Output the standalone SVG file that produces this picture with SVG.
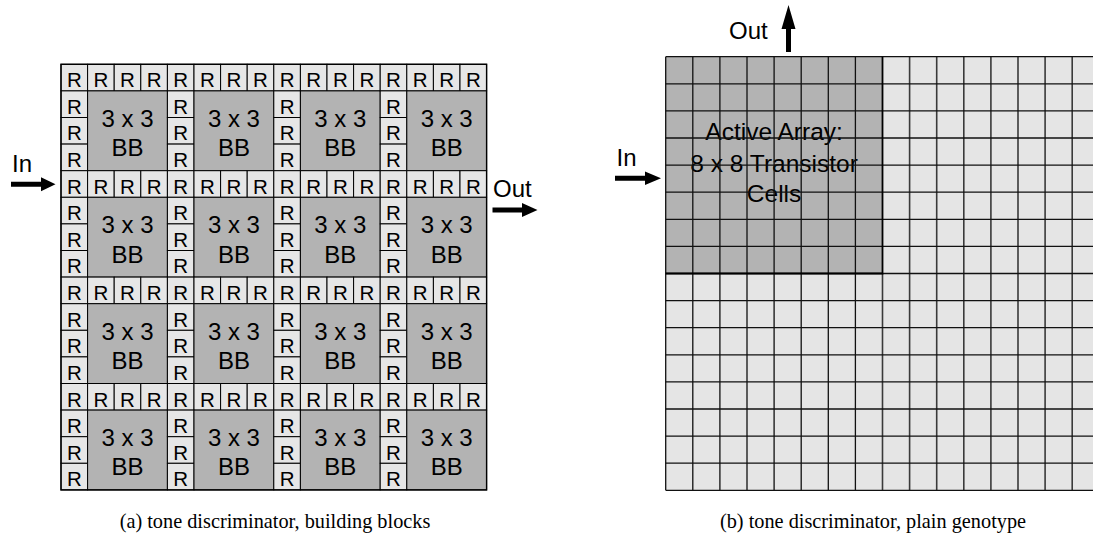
<svg xmlns="http://www.w3.org/2000/svg" width="1093" height="538" viewBox="0 0 1093 538">
<defs>
<style>
.r{fill:#e6e6e6;stroke:#000;stroke-width:1}
.bb{fill:#b3b3b3;stroke:#000;stroke-width:1}
.t{font-family:"Liberation Sans",Arial,sans-serif;fill:#000;text-anchor:middle}
.tr{font-size:20.5px}
.tb{font-size:24px}
.lab{font-family:"Liberation Sans",Arial,sans-serif;font-size:24px;fill:#000}
.cap{font-family:"Liberation Serif","Times New Roman",serif;font-size:20.3px;fill:#000;text-anchor:middle}
.gl{stroke:#111;stroke-width:1.3;fill:none}
.gv{stroke:#3a3a3a;stroke-width:1.6;fill:none}
.arrow{fill:#000;stroke:none}
</style>
</defs>
<rect width="1093" height="538" fill="#fff"/>

<g id="left-array">
<g id="blk-0-0" transform="translate(61,64.3)"><rect class="r" x="0" y="0" width="26.6" height="26.6"/><rect class="r" x="26.6" y="0" width="26.6" height="26.6"/><rect class="r" x="53.2" y="0" width="26.6" height="26.6"/><rect class="r" x="79.8" y="0" width="26.6" height="26.6"/><rect class="r" x="0" y="26.6" width="26.6" height="26.6"/><rect class="r" x="0" y="53.2" width="26.6" height="26.6"/><rect class="r" x="0" y="79.8" width="26.6" height="26.6"/><rect class="bb" x="26.6" y="26.6" width="79.8" height="79.8"/><g class="t tr"><text x="13.3" y="23">R</text><text x="39.9" y="23">R</text><text x="66.5" y="23">R</text><text x="93.1" y="23">R</text><text x="13.3" y="49.6">R</text><text x="13.3" y="76.2">R</text><text x="13.3" y="102.8">R</text></g><g class="t tb"><text x="66.5" y="62.6">3 x 3</text><text x="66.5" y="91.9">BB</text></g></g>
<g id="blk-0-1" transform="translate(167.4,64.3)"><rect class="r" x="0" y="0" width="26.6" height="26.6"/><rect class="r" x="26.6" y="0" width="26.6" height="26.6"/><rect class="r" x="53.2" y="0" width="26.6" height="26.6"/><rect class="r" x="79.8" y="0" width="26.6" height="26.6"/><rect class="r" x="0" y="26.6" width="26.6" height="26.6"/><rect class="r" x="0" y="53.2" width="26.6" height="26.6"/><rect class="r" x="0" y="79.8" width="26.6" height="26.6"/><rect class="bb" x="26.6" y="26.6" width="79.8" height="79.8"/><g class="t tr"><text x="13.3" y="23">R</text><text x="39.9" y="23">R</text><text x="66.5" y="23">R</text><text x="93.1" y="23">R</text><text x="13.3" y="49.6">R</text><text x="13.3" y="76.2">R</text><text x="13.3" y="102.8">R</text></g><g class="t tb"><text x="66.5" y="62.6">3 x 3</text><text x="66.5" y="91.9">BB</text></g></g>
<g id="blk-0-2" transform="translate(273.8,64.3)"><rect class="r" x="0" y="0" width="26.6" height="26.6"/><rect class="r" x="26.6" y="0" width="26.6" height="26.6"/><rect class="r" x="53.2" y="0" width="26.6" height="26.6"/><rect class="r" x="79.8" y="0" width="26.6" height="26.6"/><rect class="r" x="0" y="26.6" width="26.6" height="26.6"/><rect class="r" x="0" y="53.2" width="26.6" height="26.6"/><rect class="r" x="0" y="79.8" width="26.6" height="26.6"/><rect class="bb" x="26.6" y="26.6" width="79.8" height="79.8"/><g class="t tr"><text x="13.3" y="23">R</text><text x="39.9" y="23">R</text><text x="66.5" y="23">R</text><text x="93.1" y="23">R</text><text x="13.3" y="49.6">R</text><text x="13.3" y="76.2">R</text><text x="13.3" y="102.8">R</text></g><g class="t tb"><text x="66.5" y="62.6">3 x 3</text><text x="66.5" y="91.9">BB</text></g></g>
<g id="blk-0-3" transform="translate(380.2,64.3)"><rect class="r" x="0" y="0" width="26.6" height="26.6"/><rect class="r" x="26.6" y="0" width="26.6" height="26.6"/><rect class="r" x="53.2" y="0" width="26.6" height="26.6"/><rect class="r" x="79.8" y="0" width="26.6" height="26.6"/><rect class="r" x="0" y="26.6" width="26.6" height="26.6"/><rect class="r" x="0" y="53.2" width="26.6" height="26.6"/><rect class="r" x="0" y="79.8" width="26.6" height="26.6"/><rect class="bb" x="26.6" y="26.6" width="79.8" height="79.8"/><g class="t tr"><text x="13.3" y="23">R</text><text x="39.9" y="23">R</text><text x="66.5" y="23">R</text><text x="93.1" y="23">R</text><text x="13.3" y="49.6">R</text><text x="13.3" y="76.2">R</text><text x="13.3" y="102.8">R</text></g><g class="t tb"><text x="66.5" y="62.6">3 x 3</text><text x="66.5" y="91.9">BB</text></g></g>

<g id="blk-1-0" transform="translate(61,170.7)"><rect class="r" x="0" y="0" width="26.6" height="26.6"/><rect class="r" x="26.6" y="0" width="26.6" height="26.6"/><rect class="r" x="53.2" y="0" width="26.6" height="26.6"/><rect class="r" x="79.8" y="0" width="26.6" height="26.6"/><rect class="r" x="0" y="26.6" width="26.6" height="26.6"/><rect class="r" x="0" y="53.2" width="26.6" height="26.6"/><rect class="r" x="0" y="79.8" width="26.6" height="26.6"/><rect class="bb" x="26.6" y="26.6" width="79.8" height="79.8"/><g class="t tr"><text x="13.3" y="23">R</text><text x="39.9" y="23">R</text><text x="66.5" y="23">R</text><text x="93.1" y="23">R</text><text x="13.3" y="49.6">R</text><text x="13.3" y="76.2">R</text><text x="13.3" y="102.8">R</text></g><g class="t tb"><text x="66.5" y="62.6">3 x 3</text><text x="66.5" y="91.9">BB</text></g></g>
<g id="blk-1-1" transform="translate(167.4,170.7)"><rect class="r" x="0" y="0" width="26.6" height="26.6"/><rect class="r" x="26.6" y="0" width="26.6" height="26.6"/><rect class="r" x="53.2" y="0" width="26.6" height="26.6"/><rect class="r" x="79.8" y="0" width="26.6" height="26.6"/><rect class="r" x="0" y="26.6" width="26.6" height="26.6"/><rect class="r" x="0" y="53.2" width="26.6" height="26.6"/><rect class="r" x="0" y="79.8" width="26.6" height="26.6"/><rect class="bb" x="26.6" y="26.6" width="79.8" height="79.8"/><g class="t tr"><text x="13.3" y="23">R</text><text x="39.9" y="23">R</text><text x="66.5" y="23">R</text><text x="93.1" y="23">R</text><text x="13.3" y="49.6">R</text><text x="13.3" y="76.2">R</text><text x="13.3" y="102.8">R</text></g><g class="t tb"><text x="66.5" y="62.6">3 x 3</text><text x="66.5" y="91.9">BB</text></g></g>
<g id="blk-1-2" transform="translate(273.8,170.7)"><rect class="r" x="0" y="0" width="26.6" height="26.6"/><rect class="r" x="26.6" y="0" width="26.6" height="26.6"/><rect class="r" x="53.2" y="0" width="26.6" height="26.6"/><rect class="r" x="79.8" y="0" width="26.6" height="26.6"/><rect class="r" x="0" y="26.6" width="26.6" height="26.6"/><rect class="r" x="0" y="53.2" width="26.6" height="26.6"/><rect class="r" x="0" y="79.8" width="26.6" height="26.6"/><rect class="bb" x="26.6" y="26.6" width="79.8" height="79.8"/><g class="t tr"><text x="13.3" y="23">R</text><text x="39.9" y="23">R</text><text x="66.5" y="23">R</text><text x="93.1" y="23">R</text><text x="13.3" y="49.6">R</text><text x="13.3" y="76.2">R</text><text x="13.3" y="102.8">R</text></g><g class="t tb"><text x="66.5" y="62.6">3 x 3</text><text x="66.5" y="91.9">BB</text></g></g>
<g id="blk-1-3" transform="translate(380.2,170.7)"><rect class="r" x="0" y="0" width="26.6" height="26.6"/><rect class="r" x="26.6" y="0" width="26.6" height="26.6"/><rect class="r" x="53.2" y="0" width="26.6" height="26.6"/><rect class="r" x="79.8" y="0" width="26.6" height="26.6"/><rect class="r" x="0" y="26.6" width="26.6" height="26.6"/><rect class="r" x="0" y="53.2" width="26.6" height="26.6"/><rect class="r" x="0" y="79.8" width="26.6" height="26.6"/><rect class="bb" x="26.6" y="26.6" width="79.8" height="79.8"/><g class="t tr"><text x="13.3" y="23">R</text><text x="39.9" y="23">R</text><text x="66.5" y="23">R</text><text x="93.1" y="23">R</text><text x="13.3" y="49.6">R</text><text x="13.3" y="76.2">R</text><text x="13.3" y="102.8">R</text></g><g class="t tb"><text x="66.5" y="62.6">3 x 3</text><text x="66.5" y="91.9">BB</text></g></g>

<g id="blk-2-0" transform="translate(61,277.1)"><rect class="r" x="0" y="0" width="26.6" height="26.6"/><rect class="r" x="26.6" y="0" width="26.6" height="26.6"/><rect class="r" x="53.2" y="0" width="26.6" height="26.6"/><rect class="r" x="79.8" y="0" width="26.6" height="26.6"/><rect class="r" x="0" y="26.6" width="26.6" height="26.6"/><rect class="r" x="0" y="53.2" width="26.6" height="26.6"/><rect class="r" x="0" y="79.8" width="26.6" height="26.6"/><rect class="bb" x="26.6" y="26.6" width="79.8" height="79.8"/><g class="t tr"><text x="13.3" y="23">R</text><text x="39.9" y="23">R</text><text x="66.5" y="23">R</text><text x="93.1" y="23">R</text><text x="13.3" y="49.6">R</text><text x="13.3" y="76.2">R</text><text x="13.3" y="102.8">R</text></g><g class="t tb"><text x="66.5" y="62.6">3 x 3</text><text x="66.5" y="91.9">BB</text></g></g>
<g id="blk-2-1" transform="translate(167.4,277.1)"><rect class="r" x="0" y="0" width="26.6" height="26.6"/><rect class="r" x="26.6" y="0" width="26.6" height="26.6"/><rect class="r" x="53.2" y="0" width="26.6" height="26.6"/><rect class="r" x="79.8" y="0" width="26.6" height="26.6"/><rect class="r" x="0" y="26.6" width="26.6" height="26.6"/><rect class="r" x="0" y="53.2" width="26.6" height="26.6"/><rect class="r" x="0" y="79.8" width="26.6" height="26.6"/><rect class="bb" x="26.6" y="26.6" width="79.8" height="79.8"/><g class="t tr"><text x="13.3" y="23">R</text><text x="39.9" y="23">R</text><text x="66.5" y="23">R</text><text x="93.1" y="23">R</text><text x="13.3" y="49.6">R</text><text x="13.3" y="76.2">R</text><text x="13.3" y="102.8">R</text></g><g class="t tb"><text x="66.5" y="62.6">3 x 3</text><text x="66.5" y="91.9">BB</text></g></g>
<g id="blk-2-2" transform="translate(273.8,277.1)"><rect class="r" x="0" y="0" width="26.6" height="26.6"/><rect class="r" x="26.6" y="0" width="26.6" height="26.6"/><rect class="r" x="53.2" y="0" width="26.6" height="26.6"/><rect class="r" x="79.8" y="0" width="26.6" height="26.6"/><rect class="r" x="0" y="26.6" width="26.6" height="26.6"/><rect class="r" x="0" y="53.2" width="26.6" height="26.6"/><rect class="r" x="0" y="79.8" width="26.6" height="26.6"/><rect class="bb" x="26.6" y="26.6" width="79.8" height="79.8"/><g class="t tr"><text x="13.3" y="23">R</text><text x="39.9" y="23">R</text><text x="66.5" y="23">R</text><text x="93.1" y="23">R</text><text x="13.3" y="49.6">R</text><text x="13.3" y="76.2">R</text><text x="13.3" y="102.8">R</text></g><g class="t tb"><text x="66.5" y="62.6">3 x 3</text><text x="66.5" y="91.9">BB</text></g></g>
<g id="blk-2-3" transform="translate(380.2,277.1)"><rect class="r" x="0" y="0" width="26.6" height="26.6"/><rect class="r" x="26.6" y="0" width="26.6" height="26.6"/><rect class="r" x="53.2" y="0" width="26.6" height="26.6"/><rect class="r" x="79.8" y="0" width="26.6" height="26.6"/><rect class="r" x="0" y="26.6" width="26.6" height="26.6"/><rect class="r" x="0" y="53.2" width="26.6" height="26.6"/><rect class="r" x="0" y="79.8" width="26.6" height="26.6"/><rect class="bb" x="26.6" y="26.6" width="79.8" height="79.8"/><g class="t tr"><text x="13.3" y="23">R</text><text x="39.9" y="23">R</text><text x="66.5" y="23">R</text><text x="93.1" y="23">R</text><text x="13.3" y="49.6">R</text><text x="13.3" y="76.2">R</text><text x="13.3" y="102.8">R</text></g><g class="t tb"><text x="66.5" y="62.6">3 x 3</text><text x="66.5" y="91.9">BB</text></g></g>

<g id="blk-3-0" transform="translate(61,383.5)"><rect class="r" x="0" y="0" width="26.6" height="26.6"/><rect class="r" x="26.6" y="0" width="26.6" height="26.6"/><rect class="r" x="53.2" y="0" width="26.6" height="26.6"/><rect class="r" x="79.8" y="0" width="26.6" height="26.6"/><rect class="r" x="0" y="26.6" width="26.6" height="26.6"/><rect class="r" x="0" y="53.2" width="26.6" height="26.6"/><rect class="r" x="0" y="79.8" width="26.6" height="26.6"/><rect class="bb" x="26.6" y="26.6" width="79.8" height="79.8"/><g class="t tr"><text x="13.3" y="23">R</text><text x="39.9" y="23">R</text><text x="66.5" y="23">R</text><text x="93.1" y="23">R</text><text x="13.3" y="49.6">R</text><text x="13.3" y="76.2">R</text><text x="13.3" y="102.8">R</text></g><g class="t tb"><text x="66.5" y="62.6">3 x 3</text><text x="66.5" y="91.9">BB</text></g></g>
<g id="blk-3-1" transform="translate(167.4,383.5)"><rect class="r" x="0" y="0" width="26.6" height="26.6"/><rect class="r" x="26.6" y="0" width="26.6" height="26.6"/><rect class="r" x="53.2" y="0" width="26.6" height="26.6"/><rect class="r" x="79.8" y="0" width="26.6" height="26.6"/><rect class="r" x="0" y="26.6" width="26.6" height="26.6"/><rect class="r" x="0" y="53.2" width="26.6" height="26.6"/><rect class="r" x="0" y="79.8" width="26.6" height="26.6"/><rect class="bb" x="26.6" y="26.6" width="79.8" height="79.8"/><g class="t tr"><text x="13.3" y="23">R</text><text x="39.9" y="23">R</text><text x="66.5" y="23">R</text><text x="93.1" y="23">R</text><text x="13.3" y="49.6">R</text><text x="13.3" y="76.2">R</text><text x="13.3" y="102.8">R</text></g><g class="t tb"><text x="66.5" y="62.6">3 x 3</text><text x="66.5" y="91.9">BB</text></g></g>
<g id="blk-3-2" transform="translate(273.8,383.5)"><rect class="r" x="0" y="0" width="26.6" height="26.6"/><rect class="r" x="26.6" y="0" width="26.6" height="26.6"/><rect class="r" x="53.2" y="0" width="26.6" height="26.6"/><rect class="r" x="79.8" y="0" width="26.6" height="26.6"/><rect class="r" x="0" y="26.6" width="26.6" height="26.6"/><rect class="r" x="0" y="53.2" width="26.6" height="26.6"/><rect class="r" x="0" y="79.8" width="26.6" height="26.6"/><rect class="bb" x="26.6" y="26.6" width="79.8" height="79.8"/><g class="t tr"><text x="13.3" y="23">R</text><text x="39.9" y="23">R</text><text x="66.5" y="23">R</text><text x="93.1" y="23">R</text><text x="13.3" y="49.6">R</text><text x="13.3" y="76.2">R</text><text x="13.3" y="102.8">R</text></g><g class="t tb"><text x="66.5" y="62.6">3 x 3</text><text x="66.5" y="91.9">BB</text></g></g>
<g id="blk-3-3" transform="translate(380.2,383.5)"><rect class="r" x="0" y="0" width="26.6" height="26.6"/><rect class="r" x="26.6" y="0" width="26.6" height="26.6"/><rect class="r" x="53.2" y="0" width="26.6" height="26.6"/><rect class="r" x="79.8" y="0" width="26.6" height="26.6"/><rect class="r" x="0" y="26.6" width="26.6" height="26.6"/><rect class="r" x="0" y="53.2" width="26.6" height="26.6"/><rect class="r" x="0" y="79.8" width="26.6" height="26.6"/><rect class="bb" x="26.6" y="26.6" width="79.8" height="79.8"/><g class="t tr"><text x="13.3" y="23">R</text><text x="39.9" y="23">R</text><text x="66.5" y="23">R</text><text x="93.1" y="23">R</text><text x="13.3" y="49.6">R</text><text x="13.3" y="76.2">R</text><text x="13.3" y="102.8">R</text></g><g class="t tb"><text x="66.5" y="62.6">3 x 3</text><text x="66.5" y="91.9">BB</text></g></g>
<rect x="61" y="64.3" width="425.6" height="425.6" fill="none" stroke="#000" stroke-width="1.4"/>
</g>

<g id="right-array">
<rect id="plain-cells" x="665.7" y="56.7" width="433.6" height="433.6" fill="#e5e5e5"/>
<rect id="active-array" x="665.7" y="56.7" width="216.8" height="216.8" fill="#b3b3b3"/>
<g id="active-label" class="t" style="font-size:24.5px">
<text x="774.1" y="140">Active Array:</text>
<text x="774.1" y="171.5">8 x 8 Transistor</text>
<text x="774.1" y="201.5">Cells</text>
</g>
<path class="gl" d="M665.7,56.7V490.3M692.8,56.7V490.3M719.9,56.7V490.3M747,56.7V490.3M774.1,56.7V490.3M801.2,56.7V490.3M828.3,56.7V490.3M855.4,56.7V490.3"/>
<path class="gv" d="M882.5,273.5V490.3M909.6,56.7V490.3M936.7,56.7V490.3M963.8,56.7V490.3M990.9,56.7V490.3M1018,56.7V490.3M1045.1,56.7V490.3M1072.2,56.7V490.3"/>
<path class="gl" d="M665.7,56.7H1093M665.7,83.8H1093M665.7,110.9H1093M665.7,138H1093M665.7,165.1H1093M665.7,192.2H1093M665.7,219.3H1093M665.7,246.4H1093M665.7,273.5H1093M665.7,300.6H1093M665.7,327.7H1093M665.7,354.8H1093M665.7,381.9H1093M665.7,409H1093M665.7,436.1H1093M665.7,463.2H1093M665.7,490.3H1093"/>
<path d="M882.5,56.7V273.5H665.7" stroke="#000" stroke-width="1.8" fill="none"/>
</g>

<g id="connectors">
<path class="arrow" d="M11,181.8H41V177.3L55.5,184.3L41,191.3V186.8H11Z"/>
<path class="arrow" d="M492.5,207.5H522V203L537.5,210L522,217V212.5H492.5Z"/>
<path class="arrow" d="M615,175.8H645V171.5L661,178.3L645,185.1V180.8H615Z"/>
<path class="arrow" d="M786,52V29H781.5L788.5,5L795.5,29H791V52Z"/>
</g>

<g id="labels">
<text class="lab" x="12" y="172">In</text>
<text class="lab" x="493" y="196.7">Out</text>
<text class="lab" x="616.5" y="166">In</text>
<text class="lab" x="729" y="39.3">Out</text>
<text class="cap" x="275" y="528">(a) tone discriminator, building blocks</text>
<text class="cap" x="873" y="528">(b) tone discriminator, plain genotype</text>
</g>
</svg>
